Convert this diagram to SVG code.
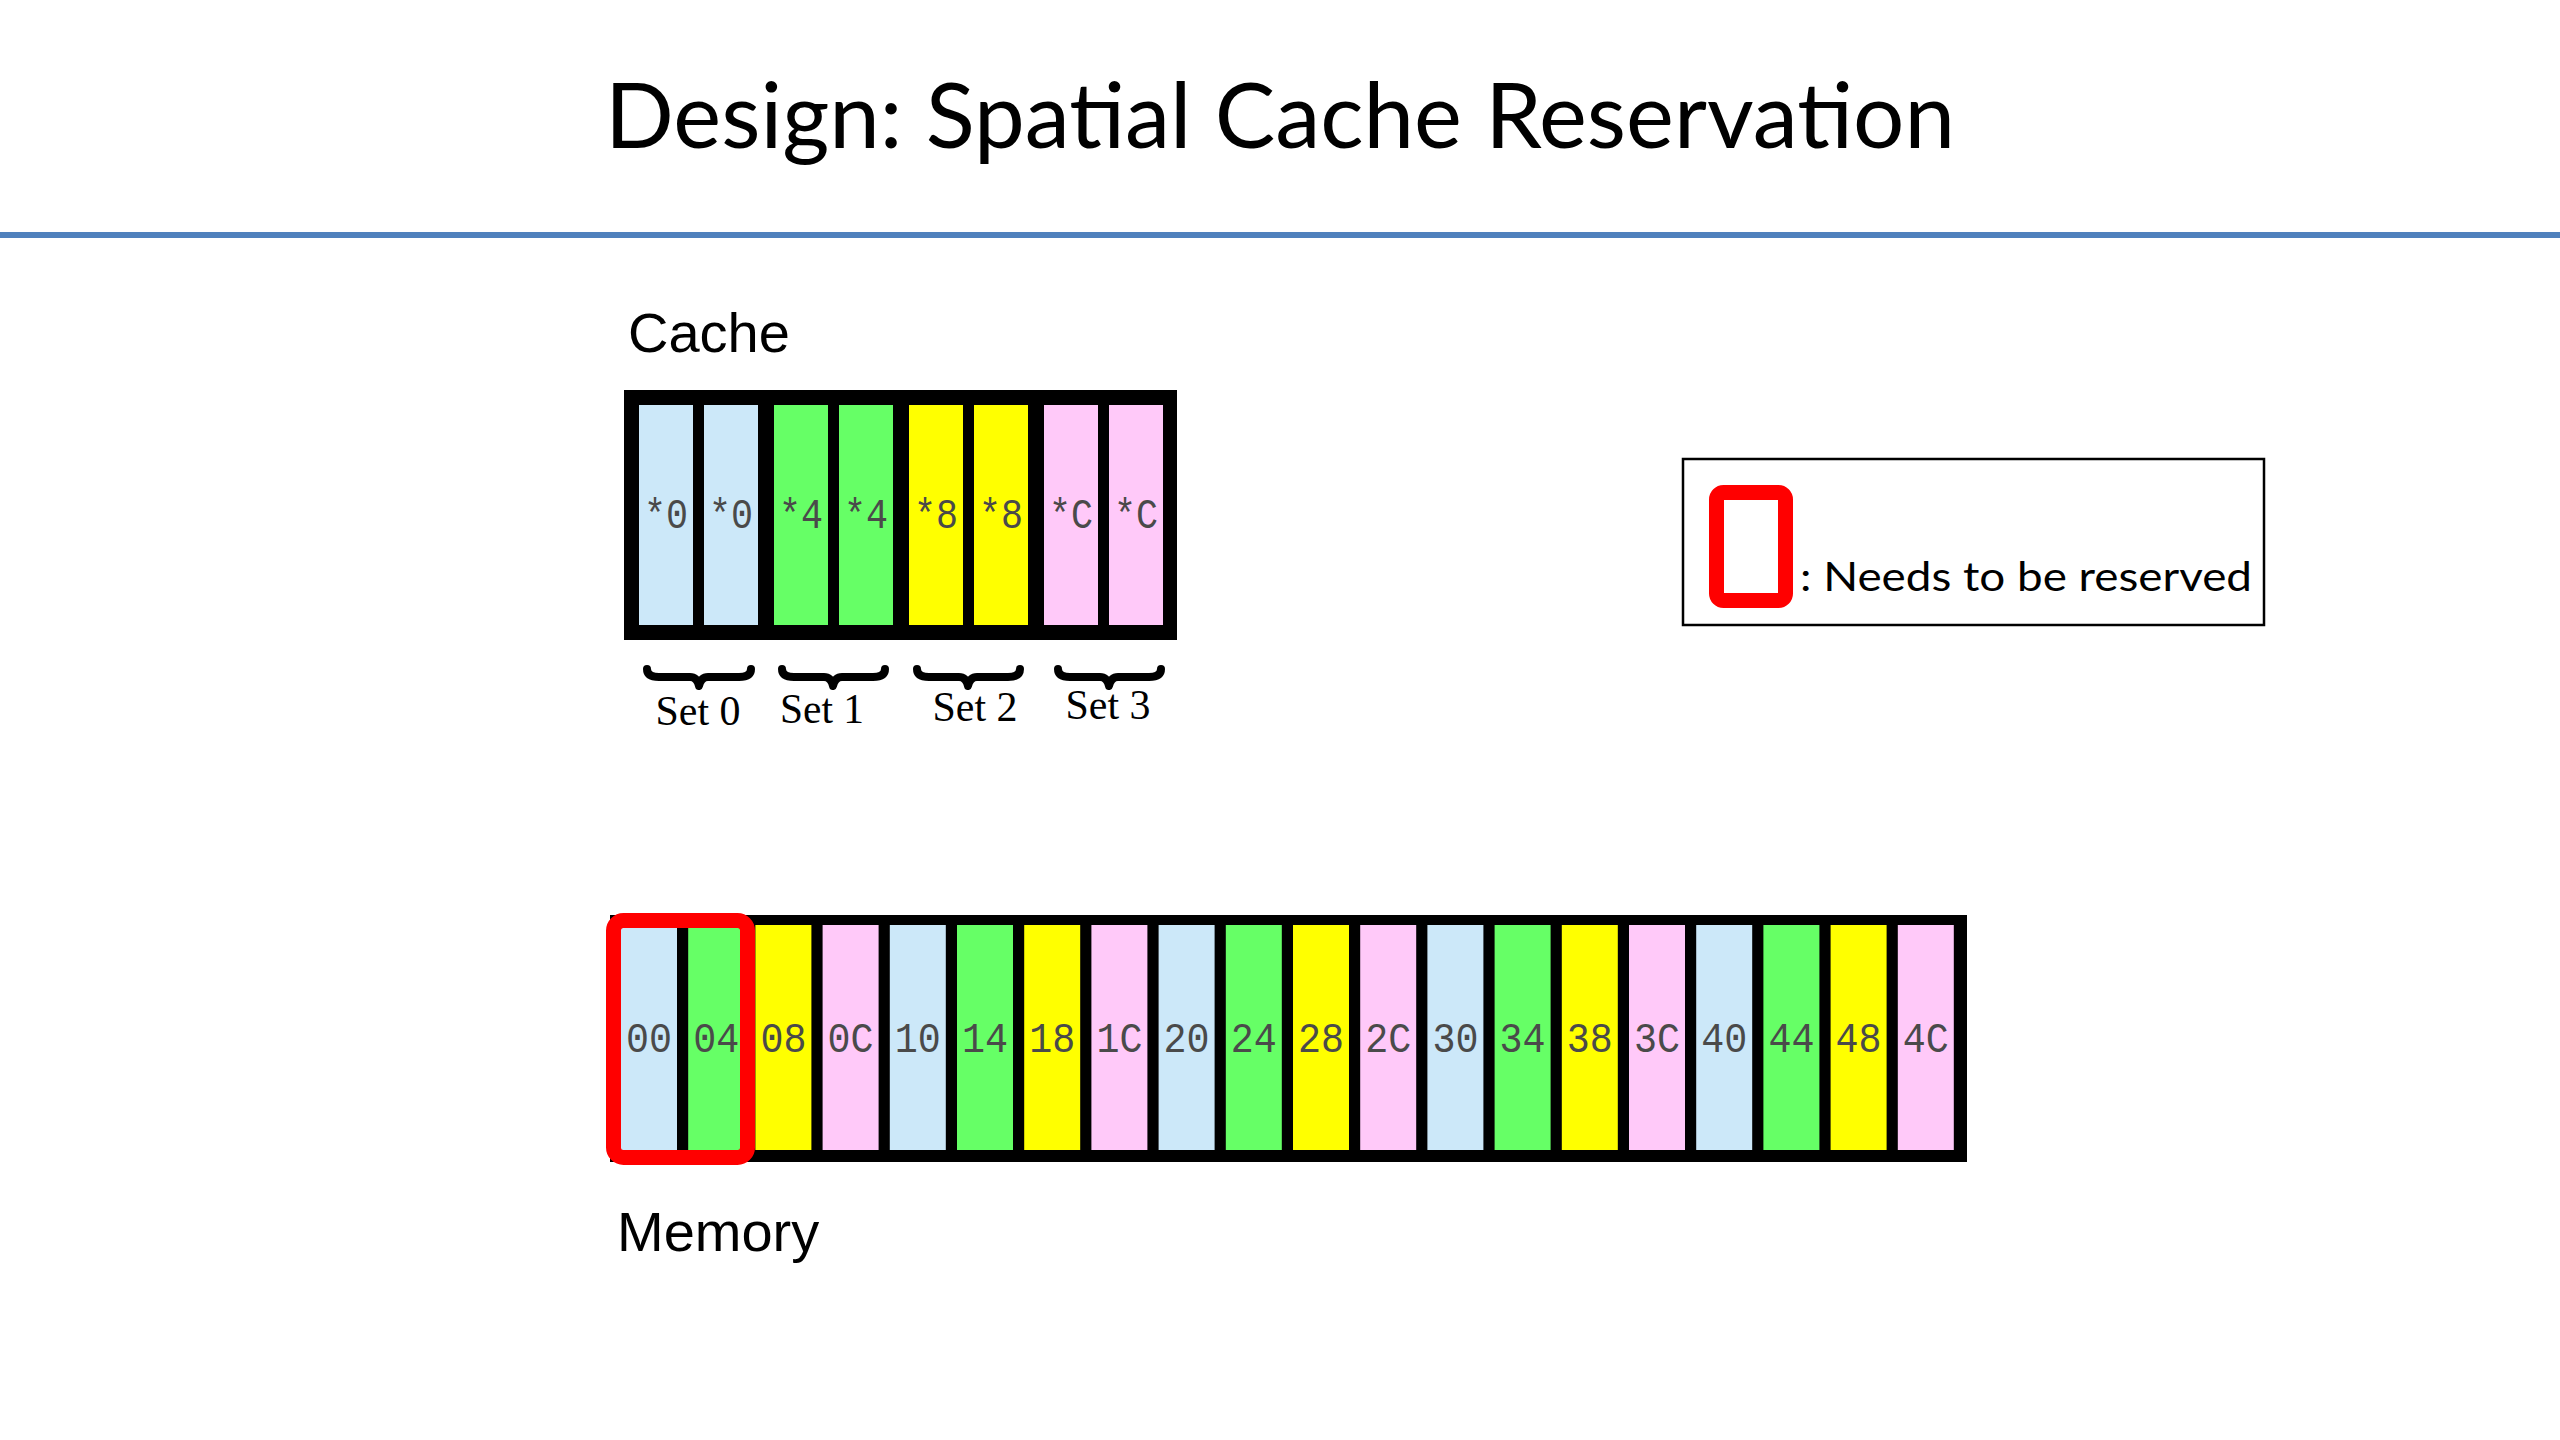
<svg xmlns="http://www.w3.org/2000/svg" width="2560" height="1440" viewBox="0 0 2560 1440">
<style>
.title{font-family:Lato,"Open Sans",sans-serif;font-size:92px;fill:#000}
.lbl{font-family:"Liberation Sans",Arial,sans-serif;font-size:56px;fill:#000}
.set{font-family:"Liberation Serif","Times New Roman",serif;font-size:42px;fill:#000;text-anchor:middle}
.cell{font-family:"Liberation Mono","Courier New",monospace;font-size:42px;fill:#4a4a4a;text-anchor:middle}
.b{fill:#cce8f9}.g{fill:#66ff66}.y{fill:#ffff00}.p{fill:#ffc9f9}
.brace{fill:none;stroke:#000;stroke-width:8;stroke-linecap:round;stroke-linejoin:round}
.leg{font-family:Lato,"Open Sans",sans-serif;font-size:40px;fill:#000}
</style>
<rect width="2560" height="1440" fill="#fff"/>
<g id="title">
<text class="title" x="605" y="148" textLength="1350" lengthAdjust="spacingAndGlyphs">Design: Spatial Cache Reservation</text>
<rect x="0" y="232" width="2560" height="6" fill="#4f81bd"/>
</g>
<g id="cache">
<text class="lbl" x="628" y="352">Cache</text>
<rect x="624" y="390" width="553" height="250" fill="#000"/>
<rect class="b" x="639" y="405" width="54" height="220"/>
<rect class="b" x="704" y="405" width="54" height="220"/>
<rect class="g" x="774" y="405" width="54" height="220"/>
<rect class="g" x="839" y="405" width="54" height="220"/>
<rect class="y" x="909" y="405" width="54" height="220"/>
<rect class="y" x="974" y="405" width="54" height="220"/>
<rect class="p" x="1044" y="405" width="54" height="220"/>
<rect class="p" x="1109" y="405" width="54" height="220"/>
<text class="cell" x="666" y="528" textLength="44" lengthAdjust="spacingAndGlyphs">*0</text>
<text class="cell" x="731" y="528" textLength="44" lengthAdjust="spacingAndGlyphs">*0</text>
<text class="cell" x="801" y="528" textLength="44" lengthAdjust="spacingAndGlyphs">*4</text>
<text class="cell" x="866" y="528" textLength="44" lengthAdjust="spacingAndGlyphs">*4</text>
<text class="cell" x="936" y="528" textLength="44" lengthAdjust="spacingAndGlyphs">*8</text>
<text class="cell" x="1001" y="528" textLength="44" lengthAdjust="spacingAndGlyphs">*8</text>
<text class="cell" x="1071" y="528" textLength="44" lengthAdjust="spacingAndGlyphs">*C</text>
<text class="cell" x="1136" y="528" textLength="44" lengthAdjust="spacingAndGlyphs">*C</text>
</g>
<g id="sets">
<path class="brace" d="M647,669 Q647,677 659,677 L690,677 Q697,677 699,686 Q701,677 708,677 L739,677 Q751,677 751,669"/>
<path class="brace" d="M782,669 Q782,677 794,677 L824,677 Q831,677 833,686 Q835,677 842,677 L873,677 Q885,677 885,669"/>
<path class="brace" d="M917,669 Q917,677 929,677 L959,677 Q966,677 968,686 Q970,677 977,677 L1008,677 Q1020,677 1020,669"/>
<path class="brace" d="M1058,669 Q1058,677 1070,677 L1100,677 Q1107,677 1109,686 Q1111,677 1118,677 L1149,677 Q1161,677 1161,669"/>
<text class="set" x="698" y="725" textLength="85" lengthAdjust="spacingAndGlyphs">Set 0</text>
<text class="set" x="822" y="723" textLength="84" lengthAdjust="spacingAndGlyphs">Set 1</text>
<text class="set" x="975" y="721" textLength="85" lengthAdjust="spacingAndGlyphs">Set 2</text>
<text class="set" x="1108" y="719" textLength="85" lengthAdjust="spacingAndGlyphs">Set 3</text>
</g>
<g id="legend">
<rect x="1683" y="459" width="581" height="166" fill="none" stroke="#000" stroke-width="2.5"/>
<rect x="1716.5" y="492.5" width="69" height="108" rx="7" fill="none" stroke="#ff0000" stroke-width="15"/>
<text class="leg" x="1800" y="591" textLength="452" lengthAdjust="spacingAndGlyphs">: Needs to be reserved</text>
</g>
<g id="memory">
<rect x="610" y="915" width="1357" height="247" fill="#000"/>
<rect class="b" x="621" y="925" width="56" height="225"/>
<rect class="g" x="688.2" y="925" width="56" height="225"/>
<rect class="y" x="755.4" y="925" width="56" height="225"/>
<rect class="p" x="822.6" y="925" width="56" height="225"/>
<rect class="b" x="889.8" y="925" width="56" height="225"/>
<rect class="g" x="957" y="925" width="56" height="225"/>
<rect class="y" x="1024.2" y="925" width="56" height="225"/>
<rect class="p" x="1091.4" y="925" width="56" height="225"/>
<rect class="b" x="1158.6" y="925" width="56" height="225"/>
<rect class="g" x="1225.8" y="925" width="56" height="225"/>
<rect class="y" x="1293" y="925" width="56" height="225"/>
<rect class="p" x="1360.2" y="925" width="56" height="225"/>
<rect class="b" x="1427.4" y="925" width="56" height="225"/>
<rect class="g" x="1494.6" y="925" width="56" height="225"/>
<rect class="y" x="1561.8" y="925" width="56" height="225"/>
<rect class="p" x="1629" y="925" width="56" height="225"/>
<rect class="b" x="1696.2" y="925" width="56" height="225"/>
<rect class="g" x="1763.4" y="925" width="56" height="225"/>
<rect class="y" x="1830.6" y="925" width="56" height="225"/>
<rect class="p" x="1897.8" y="925" width="56" height="225"/>
<text class="cell" x="649" y="1052" textLength="46" lengthAdjust="spacingAndGlyphs">00</text>
<text class="cell" x="716.2" y="1052" textLength="46" lengthAdjust="spacingAndGlyphs">04</text>
<text class="cell" x="783.4" y="1052" textLength="46" lengthAdjust="spacingAndGlyphs">08</text>
<text class="cell" x="850.6" y="1052" textLength="46" lengthAdjust="spacingAndGlyphs">0C</text>
<text class="cell" x="917.8" y="1052" textLength="46" lengthAdjust="spacingAndGlyphs">10</text>
<text class="cell" x="985" y="1052" textLength="46" lengthAdjust="spacingAndGlyphs">14</text>
<text class="cell" x="1052.2" y="1052" textLength="46" lengthAdjust="spacingAndGlyphs">18</text>
<text class="cell" x="1119.4" y="1052" textLength="46" lengthAdjust="spacingAndGlyphs">1C</text>
<text class="cell" x="1186.6" y="1052" textLength="46" lengthAdjust="spacingAndGlyphs">20</text>
<text class="cell" x="1253.8" y="1052" textLength="46" lengthAdjust="spacingAndGlyphs">24</text>
<text class="cell" x="1321" y="1052" textLength="46" lengthAdjust="spacingAndGlyphs">28</text>
<text class="cell" x="1388.2" y="1052" textLength="46" lengthAdjust="spacingAndGlyphs">2C</text>
<text class="cell" x="1455.4" y="1052" textLength="46" lengthAdjust="spacingAndGlyphs">30</text>
<text class="cell" x="1522.6" y="1052" textLength="46" lengthAdjust="spacingAndGlyphs">34</text>
<text class="cell" x="1589.8" y="1052" textLength="46" lengthAdjust="spacingAndGlyphs">38</text>
<text class="cell" x="1657" y="1052" textLength="46" lengthAdjust="spacingAndGlyphs">3C</text>
<text class="cell" x="1724.2" y="1052" textLength="46" lengthAdjust="spacingAndGlyphs">40</text>
<text class="cell" x="1791.4" y="1052" textLength="46" lengthAdjust="spacingAndGlyphs">44</text>
<text class="cell" x="1858.6" y="1052" textLength="46" lengthAdjust="spacingAndGlyphs">48</text>
<text class="cell" x="1925.8" y="1052" textLength="46" lengthAdjust="spacingAndGlyphs">4C</text>
<rect x="613.5" y="920.5" width="134" height="237" rx="10" fill="none" stroke="#ff0000" stroke-width="15"/>
<text class="lbl" x="617" y="1251">Memory</text>
</g>
</svg>
